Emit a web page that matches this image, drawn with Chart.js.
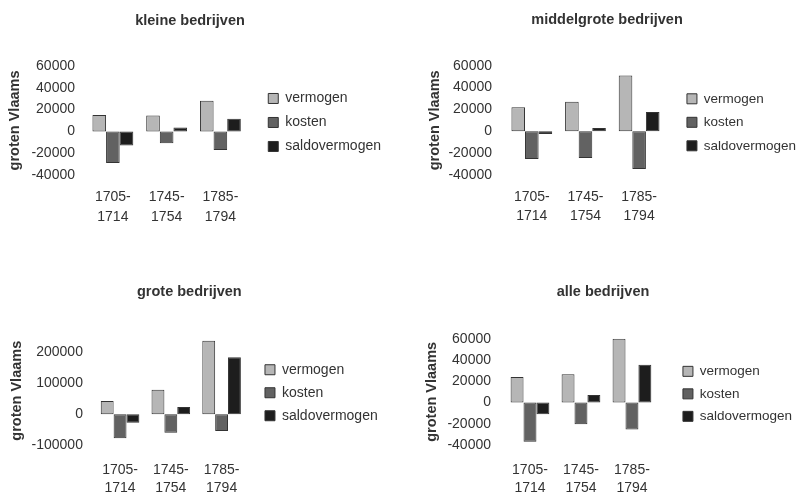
<!DOCTYPE html>
<html>
<head>
<meta charset="utf-8">
<script src="https://cdn.jsdelivr.net/npm/chart.js@4.4.1/dist/chart.umd.min.js"></script>
<style>
  html, body { margin: 0; padding: 0; background: #fff; }
  #wrap { position: relative; width: 797px; height: 494px; overflow: hidden; background: #fff; }
  canvas { position: absolute; }
</style>
</head>
<body>
<div id="wrap">
  <canvas id="c1"></canvas>
  <canvas id="c2"></canvas>
  <canvas id="c3"></canvas>
  <canvas id="c4"></canvas>
</div>
<script>
// categorieen en reeksen
const categories = [["1705-", "1714"], ["1745-", "1754"], ["1785-", "1794"]];
const seriesNames = ["vermogen", "kosten", "saldovermogen"];

const kleineVermogen = [15000, 14500, 28000];
const kleineKosten = [-29000, -11000, -17000];
const kleineSaldo = [-13000, 3500, 11500];

const middelVermogen = [22000, 27000, 51000];
const middelKosten = [-25500, -24500, -34500];
const middelSaldo = [-2500, 3000, 17500];

const groteVermogen = [42000, 78000, 235000];
const groteKosten = [-77000, -59000, -54000];
const groteSaldo = [-27500, 23000, 182000];

const alleVermogen = [24000, 26500, 60000];
const alleKosten = [-37000, -20500, -25500];
const alleSaldo = [-11000, 7000, 35500];

const smallTicks = [-40000, -20000, 0, 20000, 40000, 60000];
const groteTicks = [-100000, 0, 100000, 200000];

const kleuren = ["#b6b6b6", "#626262", "#1d1d1d"];
const tekst = "#333";
const fam = "'Liberation Sans', Arial, Helvetica, sans-serif";

// legenda iets verder van de grafiek af
const legendShift = {
  id: "legendShift",
  afterLayout(chart, args, opts) {
    chart.legend.left += opts.dx;
    chart.legend.right += opts.dx;
    chart.legend.top += opts.dy;
    chart.legend.bottom += opts.dy;
  }
};

const panels = [
  { id: "c1", title: "kleine bedrijven", data: [kleineVermogen, kleineKosten, kleineSaldo],
    min: -40000, max: 60000, ticks: smallTicks, box: [0, 0, 400, 245],
    pad: { left: 0, right: 20, top: 0, bottom: 6 }, titlePad: { top: 12.3, bottom: 36.3 },
    yTitlePad: { top: 6.3, bottom: -3.3 }, yTickPad: 11, xTickPad: 12, xLine: 1.43,
    legendSize: 14, legendPad: 10, legendDx: 11 },
  { id: "c2", title: "middelgrote bedrijven", data: [middelVermogen, middelKosten, middelSaldo],
    min: -40000, max: 60000, ticks: smallTicks, box: [400, 0, 397, 245],
    pad: { left: 19, right: 2, top: 0, bottom: 6 }, titlePad: { top: 11.3, bottom: 37 },
    yTitlePad: { top: 7.3, bottom: -8.3 }, yTickPad: 13, xTickPad: 13, xLine: 1.36,
    legendSize: 13.5, legendPad: 10, legendDx: 11 },
  { id: "c3", title: "grote bedrijven", data: [groteVermogen, groteKosten, groteSaldo],
    min: -100000, max: 250000, ticks: groteTicks, box: [0, 245, 400, 271],
    pad: { left: 0, right: 21.3, top: 0, bottom: 3.5 }, titlePad: { top: 38.3, bottom: 35.3 },
    yTitlePad: { top: 8.3, bottom: -5.85 }, yTickPad: 11.75, xTickPad: 15.5, xLine: 1.286,
    legendSize: 14, legendPad: 9, legendDx: 9 },
  { id: "c4", title: "alle bedrijven", data: [alleVermogen, alleKosten, alleSaldo],
    min: -40000, max: 60000, ticks: smallTicks, box: [400, 245, 397, 271],
    pad: { left: 20.5, right: 11.5, top: 0, bottom: 3 }, titlePad: { top: 38.3, bottom: 38 },
    yTitlePad: { top: 2.8, bottom: -6.8 }, yTickPad: 13.5, xTickPad: 16, xLine: 1.286,
    legendSize: 13.5, legendPad: 9, legendDx: 16.5 }
];

function tekenPaneel(p) {
  const canvas = document.getElementById(p.id);
  canvas.width = p.box[2];
  canvas.height = p.box[3];
  canvas.style.left = p.box[0] + "px";
  canvas.style.top = p.box[1] + "px";

  const datasets = seriesNames.map((naam, i) => ({
    label: naam,
    data: p.data[i],
    backgroundColor: kleuren[i],
    borderColor: "#333",
    borderWidth: 1,
    borderSkipped: false,
    categoryPercentage: 0.76,
    barPercentage: 1.0
  }));

  new Chart(canvas, {
    type: "bar",
    data: { labels: categories, datasets },
    plugins: [legendShift],
    options: {
      responsive: false,
      animation: false,
      devicePixelRatio: 1,
      layout: { padding: p.pad },
      scales: {
        x: {
          grid: { display: false, drawTicks: false },
          border: { display: false },
          ticks: { color: tekst, padding: p.xTickPad, maxRotation: 0, autoSkip: false,
            font: { family: fam, size: 14, lineHeight: p.xLine } }
        },
        y: {
          min: p.min,
          max: p.max,
          grid: { display: false, drawTicks: false },
          border: { display: false },
          afterBuildTicks: axis => { axis.ticks = p.ticks.map(v => ({ value: v })); },
          ticks: { color: tekst, padding: p.yTickPad, autoSkip: false, callback: v => String(v),
            font: { family: fam, size: 14 } },
          title: { display: true, text: "groten Vlaams", color: tekst, padding: p.yTitlePad,
            font: { family: fam, size: 14.5, weight: "bold" } }
        }
      },
      plugins: {
        title: { display: true, text: p.title, color: tekst, padding: p.titlePad,
          font: { family: fam, size: 14.5, weight: "bold" } },
        legend: {
          position: "right",
          fullSize: false,
          maxWidth: 220,
          labels: { color: tekst, boxWidth: 10, boxHeight: 10, padding: p.legendPad,
            font: { family: fam, size: p.legendSize } }
        },
        tooltip: { enabled: false },
        legendShift: { dx: p.legendDx, dy: 2 }
      }
    }
  });
}

panels.forEach(tekenPaneel);
</script>
</body>
</html>
